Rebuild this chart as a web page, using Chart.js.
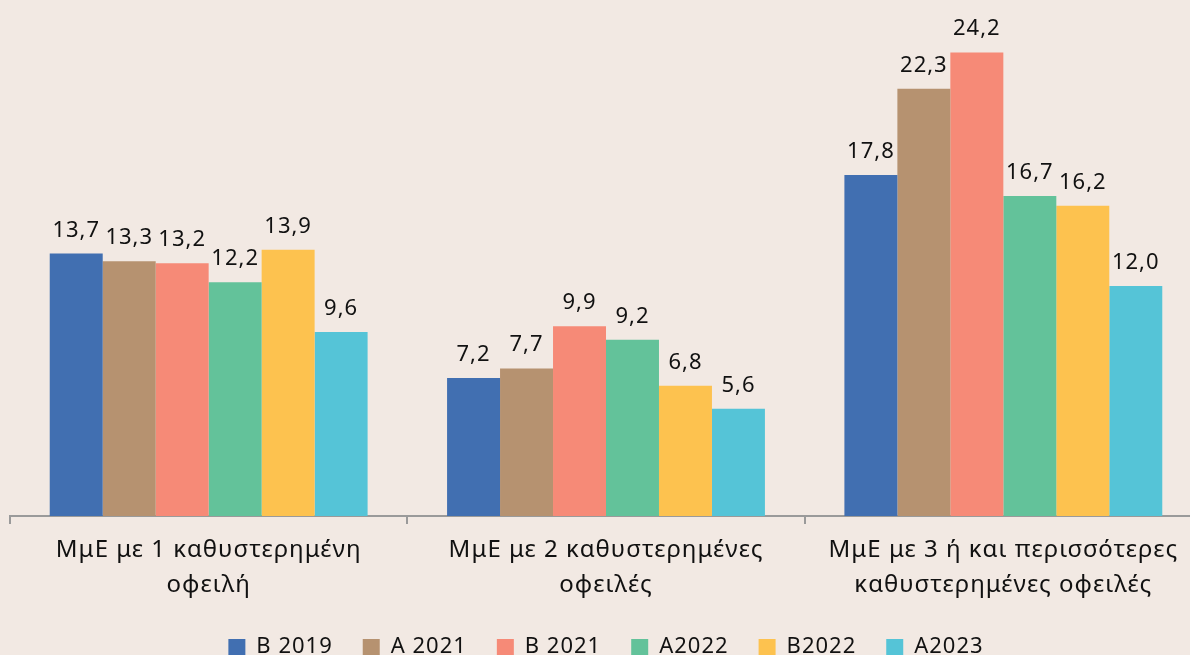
<!DOCTYPE html>
<html>
<head>
<meta charset="utf-8">
<script src="https://cdn.jsdelivr.net/npm/chart.js@4/dist/chart.umd.min.js"></script>
<style>
  html, body { margin: 0; padding: 0; background: #F2E9E3; overflow: hidden; width: 1190px; height: 655px; }
  #wrap { position: relative; width: 1202px; height: 655px; }
</style>
</head>
<body>
<div id="wrap"><canvas id="c" width="1202" height="655"></canvas></div>
<script>
const categories = [
  ["ΜμΕ με 1 καθυστερημένη", "οφειλή"],
  ["ΜμΕ με 2 καθυστερημένες", "οφειλές"],
  ["ΜμΕ με 3 ή και περισσότερες", "καθυστερημένες οφειλές"]
];
const seriesNames = ["B 2019", "A 2021", "B 2021", "A2022", "B2022", "A2023"];
const b2019 = [13.7, 7.2, 17.8];
const a2021 = [13.3, 7.7, 22.3];
const b2021 = [13.2, 9.9, 24.2];
const a2022 = [12.2, 9.2, 16.7];
const b2022 = [13.9, 6.8, 16.2];
const a2023 = [9.6, 5.6, 12.0];
const colors = ["#416FB1", "#B69270", "#F68A77", "#63C29A", "#FDC24F", "#55C4D7"];
const values = [b2019, a2021, b2021, a2022, b2022, a2023];

const FONT = "'Noto Sans', 'Open Sans', sans-serif";

const spacingPlugin = {
  id: 'spacing',
  beforeUpdate(chart) { chart.ctx.letterSpacing = '1px'; },
  beforeLayout(chart) { chart.ctx.letterSpacing = '1px'; },
  beforeDraw(chart) { chart.ctx.letterSpacing = '1px'; }
};

const labelPlugin = {
  id: 'valueLabels',
  afterDatasetsDraw(chart) {
    const ctx = chart.ctx;
    ctx.save();
    ctx.letterSpacing = '1px';
    ctx.font = "22px " + FONT;
    ctx.fillStyle = "#111111";
    ctx.textAlign = "center";
    ctx.textBaseline = "alphabetic";
    chart.data.datasets.forEach((ds, i) => {
      const meta = chart.getDatasetMeta(i);
      meta.data.forEach((bar, j) => {
        const v = ds.data[j];
        ctx.fillText(v.toFixed(1).replace('.', ','), bar.x, bar.y - 17);
      });
    });
    ctx.restore();
  }
};

new Chart(document.getElementById('c'), {
  type: 'bar',
  data: {
    labels: categories,
    datasets: seriesNames.map((n, i) => ({
      label: n,
      data: values[i],
      backgroundColor: colors[i],
      borderWidth: 0,
      categoryPercentage: 0.8,
      barPercentage: 1.0
    }))
  },
  plugins: [spacingPlugin, labelPlugin],
  options: {
    responsive: false,
    animation: false,
    layout: { padding: { left: 10, right: 0, top: 18, bottom: -13 } },
    scales: {
      x: {
        offset: true,
        afterFit(scale) { scale.height = scale.height - 6; },
        grid: {
          offset: true,
          drawOnChartArea: false,
          drawTicks: true,
          tickLength: 8,
          color: "#9a9a9a",
          lineWidth: 2
        },
        border: { display: true, color: "#9a9a9a", width: 2 },
        ticks: {
          color: "#111111",
          font: { family: FONT, size: 24, lineHeight: 1.46 },
          padding: 9,
          maxRotation: 0
        }
      },
      y: {
        display: false,
        min: 0,
        max: 26
      }
    },
    plugins: {
      legend: {
        position: 'bottom',
        labels: {
          color: "#111111",
          font: { family: FONT, size: 22 },
          boxWidth: 17,
          boxHeight: 16,
          padding: 30
        }
      },
      tooltip: { enabled: false }
    }
  }
});
</script>
</body>
</html>
